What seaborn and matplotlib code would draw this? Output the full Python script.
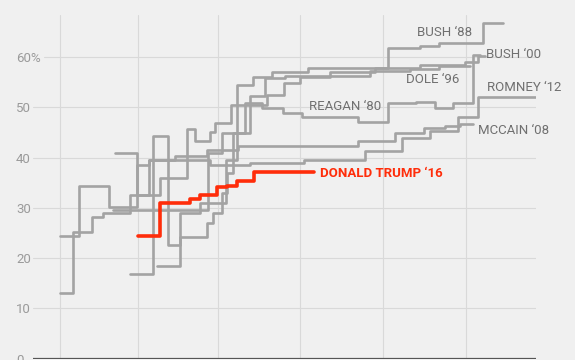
import matplotlib
matplotlib.use("Agg")
import matplotlib.pyplot as plt
import seaborn as sns
import pandas as pd

sns.set_style("white")
plt.rcParams['font.family'] = ['Roboto', 'DejaVu Sans']

# days since Jan 1, cumulative share of the primary vote (%)
mccain_days = [0, 5, 12, 16, 26, 33, 42.5, 54.5, 66, 110.5, 124, 135, 142.5, 148, 153]
mccain_pct = [13.0, 25.2, 28.2, 29.0, 32.6, 39.6, 40.3, 41.5, 42.3, 43.3, 45.0, 45.8, 46.3, 46.6, 46.6]

romney_days = [0, 7, 18, 28.5, 33, 55.5, 70.5, 90.5, 113, 126.5, 137, 147.5, 155, 176.5]
romney_pct = [24.4, 34.3, 30.2, 38.5, 39.5, 38.5, 39.0, 39.6, 41.3, 43.9, 45.3, 48.0, 52.0, 52.0]

reagan_days = [19.5, 55, 60, 68.5, 75, 82.5, 89.5, 110.5, 121.5, 132, 139, 145.5, 153, 155.5]
reagan_pct = [29.6, 41.0, 45.0, 50.9, 49.9, 48.9, 48.1, 47.1, 50.9, 51.1, 49.9, 50.9, 60.5, 60.5]

bush00_days = [20.5, 28.5, 37, 47, 50, 55.5, 57.5, 63.5, 76.5, 83, 89, 100, 116.5, 133.5, 150, 155, 157.5]
bush00_pct = [41.0, 32.6, 36.0, 45.7, 43.3, 45.1, 46.9, 50.5, 52.5, 54.9, 56.0, 57.0, 57.8, 58.5, 59.0, 60.3, 60.3]

dole_days = [26, 34.5, 40, 44.5, 54.5, 56.5, 60, 62, 64, 70.5, 76, 83.5, 115, 129.5, 140.5, 152]
dole_pct = [16.8, 44.3, 22.6, 24.1, 26.9, 29.0, 33.0, 37.0, 45.0, 52.3, 55.9, 56.3, 57.2, 57.7, 58.2, 58.2]

bush88_days = [36, 44.5, 52, 61.5, 65.5, 71.5, 78.5, 92, 121.5, 133.5, 140.5, 156.5, 164]
bush88_pct = [18.4, 29.0, 31.0, 39.5, 54.5, 56.0, 57.0, 57.9, 61.8, 62.3, 62.8, 66.8, 66.8]

trump_days = [29, 37, 48, 52, 58, 62, 65.5, 72, 94]
trump_pct = [24.4, 30.9, 31.7, 32.5, 34.1, 34.4, 35.3, 37.1, 37.1]

races = ["MCCAIN ‘08", "ROMNEY ‘12", "REAGAN ‘80", "BUSH ‘00", "DOLE ‘96", "BUSH ‘88"]
all_days = [mccain_days, romney_days, reagan_days, bush00_days, dole_days, bush88_days]
all_pct = [mccain_pct, romney_pct, reagan_pct, bush00_pct, dole_pct, bush88_pct]

rows = []
for name, d, p in zip(races, all_days, all_pct):
    for dd, pp in zip(d, p):
        rows.append({"race": name, "day": dd, "pct": pp})
df = pd.DataFrame(rows)
df_trump = pd.DataFrame({"day": trump_days, "pct": trump_pct})

# label positions (day, pct)
label_pos = {
    "BUSH ‘88": (132.2, 65.0),
    "BUSH ‘00": (157.8, 60.6),
    "DOLE ‘96": (128.0, 55.5),
    "ROMNEY ‘12": (158.0, 53.9),
    "MCCAIN ‘08": (154.8, 45.5),
    "REAGAN ‘80": (92.2, 50.1),
}
month_lines = [0, 29, 58.5, 89, 119.5, 150.5]
yticks = [0, 10, 20, 30, 40, 50, 60]

bg = "#f0f0f0"
fig = plt.figure(figsize=(5.75, 3.6), dpi=100, facecolor=bg)
ax = fig.add_axes([33 / 575, 1.5 / 360, 503 / 575, 343.5 / 360])
ax.set_facecolor(bg)

for x in month_lines:
    ax.axvline(x, color="#d9d9d9", lw=0.8, zorder=0)
for y in yticks[1:]:
    xmin = 0.022 if y == 60 else 0.0
    ax.axhline(y, xmin=xmin, color="#d9d9d9", lw=0.8, zorder=0)
ax.axhline(0, color="#555555", lw=1.6, zorder=1)

sns.lineplot(data=df, x="day", y="pct", units="race", estimator=None, sort=False,
             drawstyle="steps-post", color="#a3a3a3", lw=1.9, ax=ax, zorder=2)
sns.lineplot(data=df_trump, x="day", y="pct", estimator=None, sort=False,
             drawstyle="steps-post", color="#ff2d0a", lw=2.6, ax=ax, zorder=3)

for name, (lx, ly) in label_pos.items():
    ax.text(lx, ly, name, color="#707070", fontsize=9.5, ha="left", va="center", clip_on=False)
ax.text(96.3, 36.9, "DONALD TRUMP ‘16", color="#ff2d0a", fontsize=9.5,
        fontweight="bold", ha="left", va="center")

ax.set_xlim(-10, 176.3)
ax.set_ylim(0, 68.4)
ax.set_xticks([])
ax.set_yticks(yticks)
ax.set_yticklabels([f"{v}%" if v == 60 else str(v) for v in yticks])
ax.tick_params(axis="y", length=0, pad=12.2, labelsize=9.5, labelcolor="#9a9a9a")
for lab in ax.get_yticklabels():
    lab.set_horizontalalignment("left")
ax.set_xlabel("")
ax.set_ylabel("")
sns.despine(ax=ax, left=True, bottom=True)
legend = ax.get_legend()
if legend is not None:
    legend.remove()

fig.savefig("out.png", dpi=100, facecolor=bg)
